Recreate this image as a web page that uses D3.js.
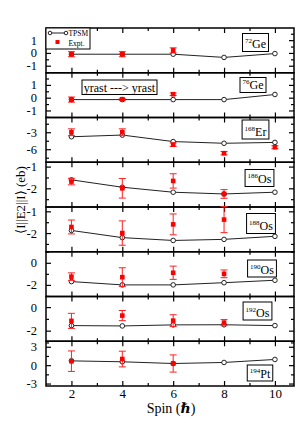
<!DOCTYPE html>
<html>
<head>
<meta charset="utf-8">
<script src="https://cdn.jsdelivr.net/npm/d3@7"></script>
<style>
  body { margin: 0; background: #fff; }
  svg { display: block; font-family: "Liberation Serif", "DejaVu Serif", serif; }
</style>
</head>
<body>
<div id="app"></div>
<script>
// spins on the x axis
const spins = [2, 4, 6, 8, 10];
const nuclei = ["72Ge", "76Ge", "168Er", "186Os", "188Os", "190Os", "192Os", "194Pt"];

// TPSM values per nucleus (eb)
const tpsm72Ge  = [-0.1, -0.1, -0.1, -0.35, -0.05];
const tpsm76Ge  = [-0.15, -0.15, -0.15, -0.15, 0.25];
const tpsm168Er = [-3.8, -3.5, -4.65, -4.95, -4.8];
const tpsm186Os = [-1.61, -1.95, -2.18, -2.26, -2.18];
const tpsm188Os = [-1.88, -2.21, -2.34, -2.29, -2.15];
const tpsm190Os = [-1.7, -2.0, -2.0, -1.8, -1.58];
const tpsm192Os = [-1.57, -1.6, -1.51, -1.5, -1.57];
const tpsm194Pt = [0.7, 0.55, 0.27, 0.44, 0.93];

// experimental values and errors (null = no data)
const expt72Ge  = [-0.1, -0.1, 0.2, null, null];
const err72Ge   = [0.2, 0.2, 0.2, null, null];
const expt76Ge  = [-0.15, -0.12, 0.27, null, null];
const err76Ge   = [0.2, 0.08, 0.1, null, null];
const expt168Er = [-3.0, -3.0, -5.2, -6.7, -5.65];
const err168Er  = [0.6, 0.6, 0.3, 0.3, 0.25];
const expt186Os = [-1.69, -2.0, -1.66, -2.26, null];
const err186Os  = [0.15, 0.45, 0.33, 0.2, null];
const expt188Os = [-1.72, -2.0, -1.6, -1.38, null];
const err188Os  = [0.32, 0.56, 0.48, 0.6, null];
const expt190Os = [-1.25, -1.3, -0.9, -1.0, null];
const err190Os  = [0.34, 0.85, 0.6, 0.35, null];
const expt192Os = [-1.17, -0.72, -1.15, -1.32, null];
const err192Os  = [0.64, 0.43, 0.5, 0.26, null];
const expt194Pt = [0.65, 1.0, 0.27, null, null];
const err194Pt  = [1.67, 1.28, 1.4, null, null];

// y domains and ticks per panel
const yDomains = [[-1.55, 1.95], [-1.55, 1.95], [-8.3, -0.4], [-2.86, -0.8], [-2.86, -0.8], [-3.05, 1.0], [-2.9, 0.9], [-3.4, 3.9]];
const yMajor = [[-1, 0, 1], [-1, 0, 1], [-6, -3], [-2, -1], [-2, -1], [-2, 0], [-2, 0], [-3, 0, 3]];
const yMinor = [[-1.5, -0.5, 0.5, 1.5], [-1.5, -0.5, 0.5, 1.5], [-7.5, -4.5, -1.5], [-2.5, -1.5], [-2.5, -1.5], [-3, -1, 1], [-1, -3], [-1.5, 1.5]];
const xMajor = [2, 4, 6, 8, 10];
const xMinor = [3, 5, 7, 9];

const tpsmAll = [tpsm72Ge, tpsm76Ge, tpsm168Er, tpsm186Os, tpsm188Os, tpsm190Os, tpsm192Os, tpsm194Pt];
const exptAll = [expt72Ge, expt76Ge, expt168Er, expt186Os, expt188Os, expt190Os, expt192Os, expt194Pt];
const errAll = [err72Ge, err76Ge, err168Er, err186Os, err188Os, err190Os, err192Os, err194Pt];

// label box (centre x, top y, height) for each nucleus
const labelPos = [[255.5, 33.5, 18], [253, 77.5, 15], [255.5, 120, 19], [259.5, 169.5, 17], [261, 213.5, 20], [262, 260, 17], [257.5, 302, 18], [260, 365, 16]];

const width = 299, height = 423;
const plotLeft = 46, plotRight = 294, plotTop = 28, plotBottom = 386;
const panelH = (plotBottom - plotTop) / nuclei.length;

const svg = d3.select('#app').append('svg')
  .attr('width', width)
  .attr('height', height);

const x = d3.scaleLinear().domain([1, 10.75]).range([plotLeft, plotRight]);

function styleAxis(sel) {
  sel.select('.domain').remove();
  sel.selectAll('line').attr('stroke', '#000').attr('stroke-width', 1.2);
  sel.selectAll('text').attr('fill', '#000');
}

nuclei.forEach((name, i) => {
  const y0 = plotTop + i * panelH;
  const y = d3.scaleLinear().domain(yDomains[i]).range([y0 + panelH, y0]);
  const g = svg.append('g');

  // x ticks top and bottom of each panel
  g.append('g').attr('transform', `translate(0,${y0})`)
    .call(d3.axisTop(x).tickValues(xMajor).tickSize(-5).tickFormat(''))
    .call(styleAxis);
  g.append('g').attr('transform', `translate(0,${y0})`)
    .call(d3.axisTop(x).tickValues(xMinor).tickSize(-3).tickFormat(''))
    .call(styleAxis);
  const bottomAxis = g.append('g').attr('transform', `translate(0,${y0 + panelH})`)
    .call(d3.axisBottom(x).tickValues(xMajor).tickSize(-5).tickPadding(3)
      .tickFormat(i === nuclei.length - 1 ? d3.format('d') : ''))
    .call(styleAxis);
  bottomAxis.selectAll('text').attr('font-size', 13).attr('font-family', '"Liberation Serif", serif');
  g.append('g').attr('transform', `translate(0,${y0 + panelH})`)
    .call(d3.axisBottom(x).tickValues(xMinor).tickSize(-3).tickFormat(''))
    .call(styleAxis);

  // y ticks left and right
  const leftAxis = g.append('g').attr('transform', `translate(${plotLeft},0)`)
    .call(d3.axisLeft(y).tickValues(yMajor[i]).tickSize(-5).tickPadding(9).tickFormat(d => d < 0 ? '-' + Math.abs(d) : d))
    .call(styleAxis);
  leftAxis.selectAll('text').attr('font-size', 12.5).attr('font-family', '"Liberation Serif", serif');
  g.append('g').attr('transform', `translate(${plotLeft},0)`)
    .call(d3.axisLeft(y).tickValues(yMinor[i]).tickSize(-3).tickFormat(''))
    .call(styleAxis);
  g.append('g').attr('transform', `translate(${plotRight},0)`)
    .call(d3.axisRight(y).tickValues(yMajor[i]).tickSize(-5).tickFormat(''))
    .call(styleAxis);
  g.append('g').attr('transform', `translate(${plotRight},0)`)
    .call(d3.axisRight(y).tickValues(yMinor[i]).tickSize(-3).tickFormat(''))
    .call(styleAxis);

  // panel frame
  g.append('rect')
    .attr('x', plotLeft).attr('y', y0)
    .attr('width', plotRight - plotLeft).attr('height', panelH)
    .attr('fill', 'none').attr('stroke', '#000').attr('stroke-width', 1.5);

  // TPSM line
  const pts = spins.map((s, k) => ({ s, v: tpsmAll[i][k] }));
  g.append('path').datum(pts)
    .attr('fill', 'none').attr('stroke', '#222').attr('stroke-width', 1)
    .attr('d', d3.line().x(d => x(d.s)).y(d => y(d.v)));
  g.selectAll('.tp').data(pts).join('circle')
    .attr('cx', d => x(d.s)).attr('cy', d => y(d.v)).attr('r', 2.3)
    .attr('fill', '#fff').attr('stroke', '#222').attr('stroke-width', 1);

  // experiment with error bars
  const ex = spins.map((s, k) => ({ s, v: exptAll[i][k], e: errAll[i][k] })).filter(d => d.v !== null);
  const eb = g.selectAll('.eb').data(ex).join('g').attr('class', 'eb');
  eb.append('line')
    .attr('x1', d => x(d.s)).attr('x2', d => x(d.s))
    .attr('y1', d => y(d.v - d.e)).attr('y2', d => y(d.v + d.e))
    .attr('stroke', '#ff2020').attr('stroke-width', 1);
  eb.append('line')
    .attr('x1', d => x(d.s) - 3.5).attr('x2', d => x(d.s) + 3.5)
    .attr('y1', d => y(d.v - d.e)).attr('y2', d => y(d.v - d.e))
    .attr('stroke', '#ff2020').attr('stroke-width', 1);
  eb.append('line')
    .attr('x1', d => x(d.s) - 3.5).attr('x2', d => x(d.s) + 3.5)
    .attr('y1', d => y(d.v + d.e)).attr('y2', d => y(d.v + d.e))
    .attr('stroke', '#ff2020').attr('stroke-width', 1);
  eb.append('rect')
    .attr('x', d => x(d.s) - 2.3).attr('y', d => y(d.v) - 2.3)
    .attr('width', 4.6).attr('height', 4.6)
    .attr('fill', '#ff0000');

  // nucleus label box, sized to its text
  const m = name.match(/^(\d+)(\D+)$/);
  const [cx, by, bh] = labelPos[i];
  const box = g.append('rect')
    .attr('y', by).attr('height', bh)
    .attr('fill', '#fff').attr('stroke', '#000').attr('stroke-width', 1);
  const t = g.append('text')
    .attr('x', cx).attr('y', by + bh - 3.5)
    .attr('text-anchor', 'middle')
    .attr('font-size', 12).attr('fill', '#000');
  t.append('tspan').attr('font-size', 7).attr('dy', -5).text(m[1]);
  t.append('tspan').attr('dy', 5).text(m[2]);
  const w = t.node().getComputedTextLength() + 5;
  box.attr('x', cx - w / 2).attr('width', w);
});

// legend
const lg = svg.append('g');
lg.append('rect').attr('x', plotLeft).attr('y', plotTop).attr('width', 44).attr('height', 21)
  .attr('fill', '#fff').attr('stroke', '#000').attr('stroke-width', 1);
lg.append('line').attr('x1', 50).attr('x2', 66).attr('y1', 33).attr('y2', 33)
  .attr('stroke', '#222').attr('stroke-width', 1);
lg.selectAll('.lc').data([50, 66]).join('circle')
  .attr('cx', d => d).attr('cy', 33).attr('r', 1.8)
  .attr('fill', '#fff').attr('stroke', '#222').attr('stroke-width', 1);
lg.append('text').attr('x', 68.5).attr('y', 36).attr('font-size', 7.5).text('TPSM');
lg.append('rect').attr('x', 55.5).attr('y', 40).attr('width', 4).attr('height', 4).attr('fill', '#ff0000');
lg.append('text').attr('x', 68.5).attr('y', 45.5).attr('font-size', 7.5).text('Expt.');

// yrast box
svg.append('rect').attr('x', 82).attr('y', 80).attr('width', 75).attr('height', 14.5)
  .attr('fill', '#fff').attr('stroke', '#000').attr('stroke-width', 1);
svg.append('text').attr('x', 119.5).attr('y', 91.5).attr('text-anchor', 'middle')
  .attr('font-size', 12).text('yrast ---> yrast');

// axis titles
svg.append('text')
  .attr('transform', 'translate(25,200) rotate(-90)')
  .attr('text-anchor', 'middle').attr('font-size', 13)
  .text('\u27E8I||E2||I\u27E9 (eb)');
const xt = svg.append('text').attr('x', 171).attr('y', 413)
  .attr('text-anchor', 'middle').attr('font-size', 14);
xt.append('tspan').text('Spin (');
xt.append('tspan').attr('font-weight', 'bold').attr('font-style', 'italic').text('\u210F');
xt.append('tspan').text(')');
</script>
</body>
</html>
